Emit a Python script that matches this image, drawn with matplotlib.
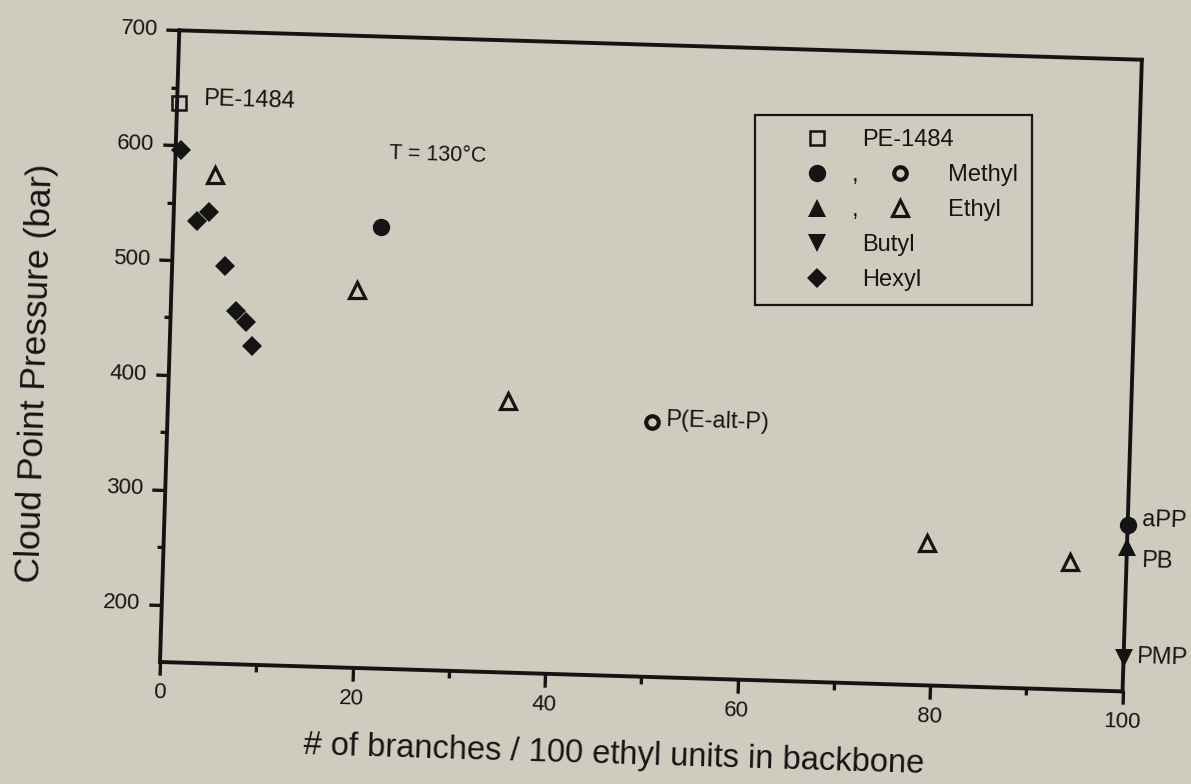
import numpy as np
import matplotlib
matplotlib.use('Agg')
import matplotlib.pyplot as plt
from matplotlib.transforms import Affine2D
from matplotlib.lines import Line2D
from matplotlib.text import Text
from matplotlib.legend_handler import HandlerBase
import mpl_toolkits.axisartist.floating_axes as floating_axes
from mpl_toolkits.axisartist.grid_finder import FixedLocator, DictFormatter

plt.rcParams['font.family'] = ['Liberation Sans', 'DejaVu Sans']

bg = '#cfcbbf'
ink = '#141414'
plt.rcParams['text.color'] = ink

# cloud point pressure (bar) at 130 C vs. branches per 100 ethyl units
pe_x = [0.2]
pe_y = [637]
methyl_x = [21.6, 100]
methyl_y = [534, 295]
methyl_open_x = [50.3]
methyl_open_y = [372]
ethyl_x = [100]
ethyl_y = [276]
ethyl_open_x = [4.2, 19.3, 35.3, 79.2, 94.1]
ethyl_open_y = [575, 479, 386, 274, 261]
butyl_x = [100]
butyl_y = [179]
hexyl_x = [0.6, 2.4, 3.7, 5.5, 6.8, 7.9, 8.5]
hexyl_y = [596, 535, 543, 496, 457, 448, 427]

# named polymers written next to their points
point_names = ['PE-1484', 'P(E-alt-P)', 'aPP', 'PB', 'PMP']

x_major = [0, 20, 40, 60, 80, 100]
x_minor = [10, 30, 50, 70, 90]
y_major = [200, 300, 400, 500, 600, 700]
y_minor = [250, 350, 450, 550, 650]
xlim = (0, 100)
ylim = (150, 700)

W, H = 1191, 784
fig = plt.figure(figsize=(W / 100, H / 100), dpi=100, facecolor=bg)

# data -> pixels, frame tilted a little clockwise
tilt = -1.75
px_x = 9.63
px_y = 1.149
tr = Affine2D().translate(-xlim[0], -ylim[0]).scale(px_x, px_y).rotate_deg(tilt)

corners = tr.transform([(xlim[0], ylim[0]), (xlim[1], ylim[0]),
                        (xlim[0], ylim[1]), (xlim[1], ylim[1])])
lo, hi = corners.min(axis=0), corners.max(axis=0)
span = (hi - lo) * 1.02          # floating axes pad their limits by 2 %
centre = (lo + hi) / 2
origin = np.array([160, H - 662])  # lower-left corner of the frame, pixels
left = origin[0] + centre[0] - span[0] / 2
bottom = origin[1] + centre[1] - span[1] / 2
rect = [left / W, bottom / H, span[0] / W, span[1] / H]


def make_axes(xt, yt, labels):
    gh = floating_axes.GridHelperCurveLinear(
        tr, extremes=(*xlim, *ylim),
        grid_locator1=FixedLocator(xt), grid_locator2=FixedLocator(yt),
        tick_formatter1=DictFormatter({v: str(v) for v in xt} if labels else {}),
        tick_formatter2=DictFormatter({v: str(v) for v in yt} if labels else {}))
    a = fig.add_axes(rect, axes_class=floating_axes.FloatingAxes, grid_helper=gh)
    a.patch.set_facecolor('none')
    for name in ['left', 'right', 'top', 'bottom']:
        ax_ = a.axis[name]
        ax_.line.set_linewidth(2.8)
        ax_.line.set_edgecolor(ink)
        ax_.major_ticks.set_tick_out(True)
        ax_.major_ticks.set_markeredgewidth(2.4)
        ax_.major_ticks.set_color(ink)
        ax_.major_ticks.set_ticksize(9.5 if labels else 5)
        ax_.major_ticklabels.set_fontsize(16)
        ax_.major_ticklabels.set_color(ink)
        ax_.label.set_visible(False)
        if name in ('right', 'top'):
            ax_.major_ticks.set_visible(False)
            ax_.major_ticklabels.set_visible(False)
        if not labels:
            ax_.line.set_visible(False)
            ax_.major_ticklabels.set_visible(False)
    return a


ax = make_axes(x_major, y_major, True)
ax_minor = make_axes(x_minor, y_minor, False)

ax.axis['bottom'].major_ticklabels.set_pad(6)
ax.axis['left'].major_ticklabels.set_pad(6)

# axis titles, turned with the frame
fig.text(614 / W, 1 - 755 / H, '# of branches / 100 ethyl units in backbone',
         fontsize=23.5, ha='center', va='center', rotation=tilt,
         rotation_mode='anchor')
fig.text(36 / W, 1 - 373 / H, 'Cloud Point Pressure (bar)',
         fontsize=25.5, ha='center', va='center', rotation=90 + tilt,
         rotation_mode='anchor')

aux = ax.get_aux_axes(tr)

kw = dict(linestyle='none', color=ink, clip_on=False)
pe_h, = aux.plot(pe_x, pe_y, marker='s', ms=10, mew=1.8, mfc='none', mec=ink, **kw)
hexyl_h, = aux.plot(hexyl_x, hexyl_y, marker='D', ms=10, mew=0, **kw)
ethyl_open_h, = aux.plot(ethyl_open_x, ethyl_open_y, marker='^', ms=12, mew=2.3,
                         mfc='none', mec=ink, **kw)
methyl_h, = aux.plot(methyl_x, methyl_y, marker='o', ms=12.5, mew=0, **kw)
methyl_open_h, = aux.plot(methyl_open_x, methyl_open_y, marker='o', ms=9, mew=3,
                          mfc='none', mec=ink, **kw)
ethyl_h, = aux.plot(ethyl_x, ethyl_y, marker='^', ms=13, mew=0, **kw)
butyl_h, = aux.plot(butyl_x, butyl_y, marker='v', ms=13, mew=0, **kw)

# name tags: (x, y, offset in points)
tag_points = [
    (pe_x[0], pe_y[0], (17, 2)),
    (methyl_open_x[0], methyl_open_y[0], (9.5, 0)),
    (methyl_x[1], methyl_y[1], (10, 3)),
    (ethyl_x[0], ethyl_y[0], (10, -11)),
    (butyl_x[0], butyl_y[0], (9, 0)),
]
for name, (x, y, off) in zip(point_names, tag_points):
    aux.annotate(name, xy=(x, y), xytext=off, textcoords='offset points',
                 ha='left', va='center', fontsize=17, rotation=tilt,
                 annotation_clip=False)

aux.text(22.1, 597, 'T = 130°C', ha='left', va='center', fontsize=15.5,
         rotation=tilt)


class PairHandler(HandlerBase):
    # filled marker, a comma, then the open marker of the same branch
    def create_artists(self, legend, orig_handle, xdescent, ydescent,
                       width, height, fontsize, trans):
        filled, hollow = orig_handle
        cx = width / 2 - xdescent
        cy = height / 2 - ydescent
        arts = []
        for h, dx in ((filled, 0), (hollow, 3.52 * fontsize)):
            m = Line2D([cx + dx], [cy], linestyle='none')
            m.update_from(h)
            m.set_clip_on(False)
            m.set_transform(trans)
            arts.append(m)
        comma = Text(cx + 1.61 * fontsize, cy - 0.1 * fontsize, ',',
                     fontsize=fontsize, ha='center', va='center', color=ink)
        comma.set_transform(trans)
        arts.append(comma)
        return arts


gap = ' ' * 13
handles = [pe_h, (methyl_h, methyl_open_h), (ethyl_h, ethyl_open_h), butyl_h, hexyl_h]
labels = ['PE-1484', gap + 'Methyl', gap + 'Ethyl', 'Butyl', 'Hexyl']
leg = ax.legend(handles, labels, handler_map={tuple: PairHandler()},
                loc='upper left', bbox_to_anchor=(755 / W, 1 - 115 / H),
                bbox_transform=fig.transFigure, fontsize=17, numpoints=1,
                frameon=True, fancybox=False, edgecolor=ink, facecolor='none',
                framealpha=1, borderpad=0.6, labelspacing=0.55,
                handlelength=4.05, handletextpad=-0.12, borderaxespad=0)
leg.get_frame().set_linewidth(1.6)

fig.savefig('out.png', dpi=100, facecolor=bg)
